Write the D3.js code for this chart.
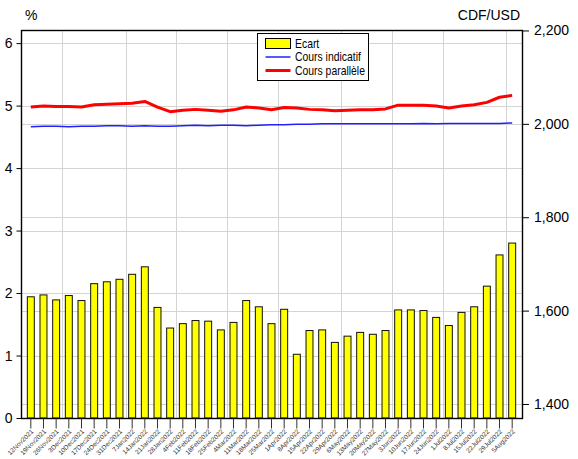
<!DOCTYPE html>
<html>
<head>
<meta charset="utf-8">
<script src="https://cdn.jsdelivr.net/npm/d3@7"></script>
<style>
  body { margin: 0; background: #fff; }
  text { font-family: "Liberation Sans", Arial, sans-serif; }
</style>
</head>
<body>
<svg id="chart" width="578" height="459"></svg>
<script>
// Weekly observations (Friday)
var dates = ["12Nov2021", "19Nov2021", "26Nov2021", "3Dec2021", "10Dec2021", "17Dec2021",
  "24Dec2021", "31Dec2021", "7Jan2022", "14Jan2022", "21Jan2022", "28Jan2022", "4Feb2022",
  "11Feb2022", "18Feb2022", "25Feb2022", "4Mar2022", "11Mar2022", "18Mar2022", "25Mar2022",
  "1Apr2022", "8Apr2022", "15Apr2022", "22Apr2022", "29Apr2022", "6May2022", "13May2022",
  "20May2022", "27May2022", "3Jun2022", "10Jun2022", "17Jun2022", "24Jun2022", "1Jul2022",
  "8Jul2022", "15Jul2022", "22Jul2022", "29Jul2022", "5Aug2022"];

// Ecart (%) - left axis
var ecart = [1.94, 1.97, 1.89, 1.96, 1.88, 2.15, 2.18, 2.22, 2.30, 2.42, 1.77, 1.44, 1.51,
  1.56, 1.55, 1.41, 1.53, 1.88, 1.78, 1.51, 1.74, 1.02, 1.40, 1.41, 1.21, 1.31, 1.37, 1.34,
  1.40, 1.73, 1.73, 1.72, 1.61, 1.48, 1.69, 1.78, 2.11, 2.61, 2.80];

// CDF/USD - right axis
var coursIndicatif = [1994, 1995, 1995, 1994, 1995, 1995, 1996, 1996, 1995, 1996, 1995, 1995,
  1996, 1997, 1996, 1997, 1997, 1996, 1997, 1998, 1998, 1999, 1999, 2000, 2000, 2000, 2000,
  2000, 2000, 2000, 2000, 2001, 2000, 2001, 2001, 2001, 2001, 2001, 2002];
var coursParallele = [2036, 2038, 2037, 2037, 2036, 2041, 2042, 2043, 2044, 2048, 2036, 2026,
  2029, 2031, 2029, 2027, 2030, 2036, 2034, 2030, 2035, 2034, 2031, 2030, 2028, 2029, 2030,
  2030, 2032, 2040, 2040, 2040, 2038, 2034, 2038, 2041, 2046, 2057, 2061];

var pctTicks = [0, 1, 2, 3, 4, 5, 6];
var cdfTicks = [1400, 1600, 1800, 2000, 2200];

// Plot box (don't call these top/left: window.top is reserved)
var box = { left: 21, right: 522, top: 30, bottom: 418 };

var svg = d3.select('#chart');

var xScale = d3.scaleBand().domain(dates).range([box.left, box.right])
  .paddingInner(0.45).paddingOuter(0.5);
var yLeft = d3.scaleLinear().domain([0, 6.21]).range([box.bottom, box.top]);
var yRight = d3.scaleLinear().domain([1370, 2201]).range([box.bottom, box.top]);
function cx(d) { return xScale(d) + xScale.bandwidth() / 2; }

// Gridlines
var grid = svg.append('g').attr('class', 'grid')
  .attr('stroke', '#d4d4d4').attr('stroke-width', 1);
pctTicks.forEach(function(t) {
  var y = Math.round(yLeft(t)) + 0.5;
  grid.append('line').attr('x1', box.left).attr('x2', box.right).attr('y1', y).attr('y2', y);
});
cdfTicks.forEach(function(t) {
  var y = Math.round(yRight(t)) + 0.5;
  grid.append('line').attr('x1', box.left).attr('x2', box.right).attr('y1', y).attr('y2', y);
});
// vertical lines at month changes
function month(d) { return d.replace(/^\d+/, '').slice(0, 3); }
dates.forEach(function(d, i) {
  if (i === 0 || month(d) === month(dates[i - 1])) return;
  var x = Math.round((cx(d) + cx(dates[i - 1])) / 2) + 0.5;
  grid.append('line').attr('x1', x).attr('x2', x).attr('y1', box.top).attr('y2', box.bottom);
});

// Bars
svg.append('g').selectAll('rect')
  .data(ecart).enter()
  .append('rect')
    .attr('x', function(d, i) { return xScale(dates[i]); })
    .attr('y', function(d) { return yLeft(d); })
    .attr('width', xScale.bandwidth())
    .attr('height', function(d) { return box.bottom - yLeft(d); })
    .attr('fill', '#ffff00')
    .attr('stroke', '#111')
    .attr('stroke-width', 1);

// Lines
var line = d3.line()
  .x(function(d, i) { return cx(dates[i]); })
  .y(function(d) { return yRight(d); });
svg.append('path').datum(coursIndicatif)
  .attr('d', line).attr('fill', 'none')
  .attr('stroke', '#2020ff').attr('stroke-width', 1.5);
svg.append('path').datum(coursParallele)
  .attr('d', line).attr('fill', 'none')
  .attr('stroke', '#ff0000').attr('stroke-width', 3)
  .attr('stroke-linejoin', 'round');

// Frame
svg.append('rect').attr('x', box.left + 0.5).attr('y', box.top + 0.5)
  .attr('width', box.right - box.left).attr('height', box.bottom - box.top)
  .attr('fill', 'none').attr('stroke', '#000').attr('stroke-width', 1.4);

// Axes
var axisL = svg.append('g').attr('transform', 'translate(' + (box.left + 0.5) + ',0)')
  .call(d3.axisLeft(yLeft).tickValues(pctTicks).tickSize(5).tickPadding(4).tickFormat(d3.format('d')));
var axisR = svg.append('g').attr('transform', 'translate(' + (box.right + 1) + ',0)')
  .call(d3.axisRight(yRight).tickValues(cdfTicks).tickSize(6).tickPadding(5).tickFormat(d3.format(',')));
[axisL, axisR].forEach(function(a) {
  a.select('.domain').remove();
  a.selectAll('text').attr('font-size', 14).attr('fill', '#000')
    .attr('font-family', '"Liberation Sans", Arial, sans-serif');
  a.selectAll('line').attr('stroke', '#000');
});

var axisB = svg.append('g').attr('transform', 'translate(0,' + (box.bottom + 0.5) + ')')
  .call(d3.axisBottom(xScale).tickSize(10).tickFormat(''));
axisB.select('.domain').remove();
axisB.selectAll('line').attr('stroke', '#333');
svg.append('g').selectAll('text')
  .data(dates).enter()
  .append('text')
    .attr('transform', function(d) { return 'translate(' + (cx(d) + 3) + ',' + (box.bottom + 14) + ') rotate(-45)'; })
    .attr('text-anchor', 'end')
    .attr('font-size', 6.5)
    .attr('fill', '#333')
    .text(function(d) { return d; });

// Axis titles
svg.append('text').attr('x', 25).attr('y', 20).attr('font-size', 14).text('%');
svg.append('text').attr('x', 520).attr('y', 20).attr('text-anchor', 'end')
  .attr('font-size', 14).text('CDF/USD');

// Legend
var legend = svg.append('g').attr('transform', 'translate(257.5,33.5)');
legend.append('rect').attr('width', 111).attr('height', 47)
  .attr('fill', '#fff').attr('stroke', '#000').attr('stroke-width', 1);
legend.append('rect').attr('x', 8).attr('y', 5).attr('width', 25).attr('height', 10)
  .attr('fill', '#ffff00').attr('stroke', '#000');
legend.append('line').attr('x1', 8).attr('x2', 33).attr('y1', 23.5).attr('y2', 23.5)
  .attr('stroke', '#2020ff').attr('stroke-width', 1.5);
legend.append('line').attr('x1', 8).attr('x2', 33).attr('y1', 37).attr('y2', 37)
  .attr('stroke', '#ff0000').attr('stroke-width', 3);
['Ecart', 'Cours indicatif', 'Cours parallèle'].forEach(function(t, i) {
  legend.append('text')
    .attr('transform', 'translate(37.5,' + (14 + i * 13.5) + ') scale(0.8,1)')
    .attr('font-size', 13).text(t);
});
</script>
</body>
</html>
